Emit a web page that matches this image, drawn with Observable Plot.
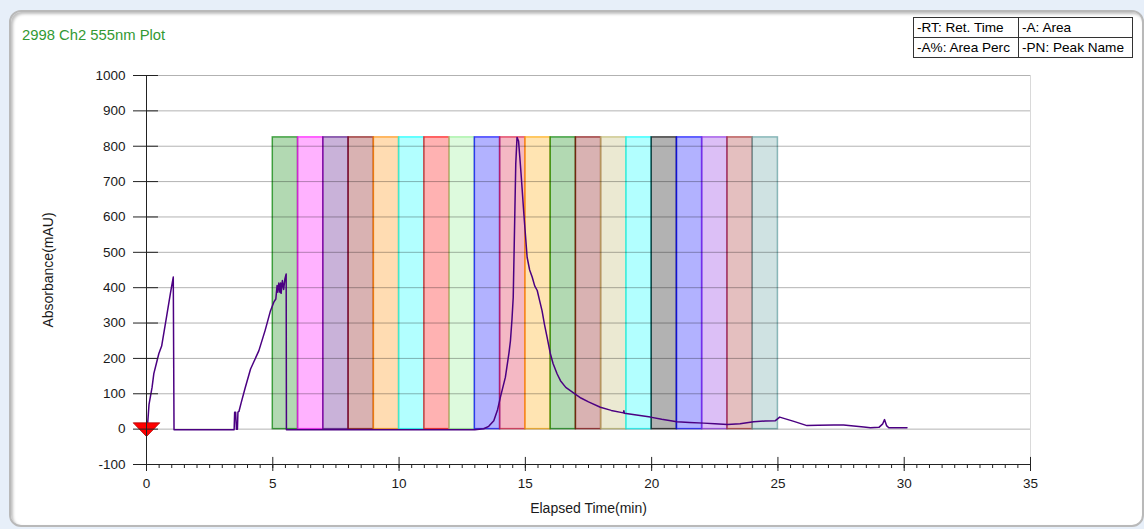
<!DOCTYPE html>
<html>
<head>
<meta charset="utf-8">
<script src="https://cdn.jsdelivr.net/npm/d3@7"></script>
<script src="https://cdn.jsdelivr.net/npm/@observablehq/plot@0.6"></script>
<style>
  html, body { margin: 0; padding: 0; width: 1144px; height: 529px; overflow: hidden; background: #e7eff9; font-family: "Liberation Sans", Arial, sans-serif; }
  #panel { position: absolute; left: 9px; top: 10px; width: 1131px; height: 513px; background: #fff; border: 2px solid #b9b9b9; border-radius: 12px; box-shadow: inset 2px 2px 3px rgba(0,0,0,0.25); }
  #chart { position: absolute; left: 0; top: 0; }
  #title { position: absolute; left: 22px; top: 27px; font-size: 14.8px; color: #339933; white-space: nowrap; }
  #legend { position: absolute; left: 913px; top: 17px; border-collapse: collapse; font-size: 13.6px; color: #000; background: #fff; }
  #legend td { border: 1px solid #333; padding: 0 3px; height: 19px; line-height: 18px; white-space: nowrap; }
</style>
</head>
<body>
<div id="panel"></div>
<div id="chart"></div>
<div id="title"></div>
<table id="legend"></table>
<script>
// ---- data ----
const chartTitle = "2998 Ch2 555nm Plot";
const xLabel = "Elapsed Time(min)";
const yLabel = "Absorbance(mAU)";
const legendCells = [["-RT: Ret. Time", "-A: Area"], ["-A%: Area Perc", "-PN: Peak Name"]];

const xMajorTicks = [0, 5, 10, 15, 20, 25, 30, 35];
const xMinorTicks = d3.range(0, 35.01, 0.5);
const yTicks = [-100, 0, 100, 200, 300, 400, 500, 600, 700, 800, 900, 1000];

// peak windows (start time, end time, height) and their colours
const bandStart = [5, 6, 7, 8, 9, 10, 11, 12, 13, 14, 15, 16, 17, 18, 19, 20, 21, 22, 23, 24];
const bandEnd   = [6, 7, 8, 9, 10, 11, 12, 13, 14, 15, 16, 17, 18, 19, 20, 21, 22, 23, 24, 25];
const bandTop = 825;
const bandColors = ["#008000", "#ff00ff", "#4b0082", "#800000", "#ff8c00", "#00ffff", "#ff0000", "#90ee90",
                    "#0000ff", "#dc143c", "#ffa500", "#008000", "#800000", "#bdb76b", "#00ffff", "#000000",
                    "#0000ff", "#8a2be2", "#a52a2a", "#5f9ea0"];

// chromatogram trace
const traceTime = [0, 0.05, 0.1, 0.22, 0.29, 0.42, 0.49, 0.6, 0.8, 0.95, 1.06, 1.09,
  3.47, 3.49, 3.53, 3.56, 3.6, 3.62, 3.66, 3.75, 3.9, 4.12, 4.45, 4.7, 4.91, 5.04, 5.12, 5.17, 5.2, 5.24, 5.28, 5.31, 5.33, 5.38, 5.43, 5.48, 5.53, 5.54,
  13.0, 13.35, 13.55, 13.75, 13.9, 14.01, 14.21, 14.35, 14.41, 14.47, 14.52, 14.57, 14.62, 14.67, 14.73, 14.78, 14.83, 14.94,
  15.07, 15.17, 15.27, 15.37, 15.47, 15.56, 15.66, 15.76, 15.86, 15.99, 16.1, 16.26, 16.39, 16.6, 16.92, 17.2, 17.5, 17.97,
  18.4, 18.88, 18.9, 18.92, 19.4, 19.95, 20.4, 21.0, 21.5, 22.06, 22.5, 23.0, 23.5, 24.04, 24.5, 24.9, 25.07, 25.3, 25.63,
  26.15, 26.6, 27.21, 27.6, 28.0, 28.4, 28.66, 29.0, 29.15, 29.22, 29.3, 29.39, 30.11];
const traceAbs = [0, 20, 70, 118, 157, 194, 214, 235, 320, 385, 430, -2,
  -2, 48, 48, 0, 0, 48, 50, 75, 115, 170, 222, 280, 335, 359, 368, 406, 387, 413, 387, 413, 384, 420, 395, 425, 439, -2,
  -2, 1, 8, 24, 55, 90, 147, 215, 250, 310, 373, 562, 750, 825, 815, 770, 722, 609,
  486, 450, 430, 405, 392, 365, 335, 295, 260, 213, 185, 156, 137, 118, 102, 88, 77, 62,
  53, 46, 52, 45, 40, 34, 28, 21, 19, 17, 15, 13, 15, 21, 23, 24, 34, 29, 22,
  10, 11, 12, 12, 9, 6, 4, 5, 15, 27, 10, 4, 4];

const markerTime = [0];
const markerAbs = [0];

// ---- build ----
const bands = bandStart.map((s, i) => ({x1: s, x2: bandEnd[i], y1: 0, y2: bandTop, color: bandColors[i]}));
const trace = traceTime.map((t, i) => ({t, a: traceAbs[i]}));
const markers = markerTime.map((t, i) => ({t, a: markerAbs[i]}));

const flatTriangle = {
  draw(context) {
    context.moveTo(-13.3, -6.3);
    context.lineTo(13.3, -6.3);
    context.lineTo(0, 7.4);
    context.closePath();
  }
};

const gridY = yTicks.filter(v => v !== -100);
const plain = d => String(d);

const chart = Plot.plot({
  width: 1144,
  height: 529,
  marginLeft: 146,
  marginRight: 114,
  marginTop: 75,
  marginBottom: 65,
  x: {domain: [0, 35]},
  y: {domain: [-100, 1000]},
  style: {background: "transparent", fontFamily: "'Liberation Sans', Arial, sans-serif", fontSize: "13.5px", color: "#1a1a1a", overflow: "visible"},
  marks: [
    // right frame edge
    Plot.ruleX([35], {y1: -100, y2: 1000, stroke: "#000", strokeOpacity: 0.15}),
    // peak windows
    Plot.rect(bands, {x1: "x1", x2: "x2", y1: "y1", y2: "y2", fill: "color", fillOpacity: 0.3, stroke: "color", strokeOpacity: 0.7, strokeWidth: 1.5}),
    // grid
    Plot.ruleY(gridY, {x1: 0, x2: 35, stroke: "#000", strokeOpacity: 0.3}),
    // trace
    Plot.line(trace, {x: "t", y: "a", stroke: "#4b0082", strokeWidth: 1.5, curve: "linear"}),
    // injection marker
    Plot.dot(markers, {x: "t", y: "a", symbol: flatTriangle, fill: "#ff0000", stroke: "#b00000", strokeWidth: 0.8}),
    // axis lines
    Plot.ruleX([0], {y1: -100, y2: 1000, stroke: "#222"}),
    Plot.ruleY([-100], {x1: 0, x2: 35, stroke: "#222"}),
    // inner y ticks
    Plot.ruleY(yTicks, {x1: 0, x2: 0.475, stroke: "#222"}),
    // inner x major ticks
    Plot.ruleX(xMajorTicks, {y1: -100, y2: -80, stroke: "#222"}),
    // axes
    Plot.axisY({ticks: yTicks, tickSize: 13, tickPadding: 8, tickFormat: plain, label: null, stroke: "#222"}),
    Plot.axisX({ticks: xMinorTicks, tickSize: 4, tickFormat: () => "", label: null, stroke: "#222"}),
    Plot.axisX({ticks: xMajorTicks, tickSize: 7, tickPadding: 7, tickFormat: plain, label: null, stroke: "#222"}),
    // axis titles
    Plot.text([xLabel], {text: d => d, frameAnchor: "bottom", dy: 48, fontSize: 14, fill: "#1a1a1a"}),
    Plot.text([yLabel], {text: d => d, frameAnchor: "left", textAnchor: "middle", dx: -98, rotate: -90, fontSize: 14, fill: "#1a1a1a"})
  ]
});
document.getElementById("chart").appendChild(chart);

document.getElementById("title").textContent = chartTitle;
const table = document.getElementById("legend");
legendCells.forEach(row => {
  const tr = document.createElement("tr");
  row.forEach((c, j) => {
    const td = document.createElement("td");
    td.textContent = c;
    td.style.width = j === 0 ? "98px" : "107px";
    tr.appendChild(td);
  });
  table.appendChild(tr);
});
</script>
</body>
</html>
